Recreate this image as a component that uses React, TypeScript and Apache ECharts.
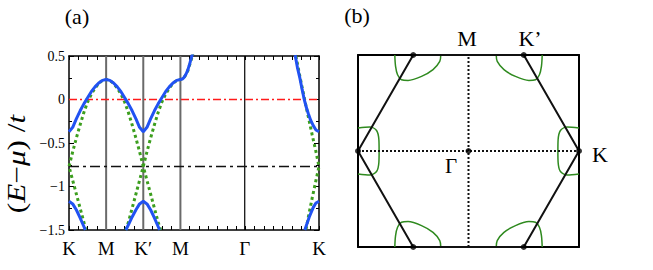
import React, { useEffect, useRef } from "react";
import * as echarts from "echarts";

// ---- panel (a): band structure along K-M-K'-M-Γ-K (K-M distance = 1) ----
const PATH_LABELS = ["K", "M", "K\u2032", "M", "\u0393", "K"];
const PATH_POS = [0, 1, 2, 3, 4.732, 6.732];
const Y_TICKS = [0.5, 0, -0.5, -1, -1.5];
const MU_LINE = 0;
const DIRAC_LINE = -0.77;

// blue (gapped) bands
const blueUpperMain: number[][] = [
  [0, -0.37], [0.1, -0.32], [0.2, -0.22], [0.3, -0.13], [0.4, -0.05], [0.5, 0.02],
  [0.6, 0.09], [0.7, 0.145], [0.8, 0.19], [0.9, 0.22], [1.0, 0.23],
  [1.1, 0.22], [1.2, 0.19], [1.3, 0.145], [1.4, 0.09], [1.5, 0.02], [1.6, -0.05],
  [1.7, -0.13], [1.8, -0.22], [1.9, -0.32], [2.0, -0.37],
  [2.1, -0.32], [2.2, -0.22], [2.3, -0.13], [2.4, -0.05], [2.5, 0.02], [2.6, 0.09],
  [2.7, 0.145], [2.8, 0.19], [2.9, 0.22], [3.0, 0.23], [3.05, 0.235], [3.1, 0.255],
  [3.15, 0.29], [3.2, 0.34], [3.25, 0.41], [3.3, 0.49], [3.33, 0.53],
];
const blueUpperEnd: number[][] = [
  [6.09, 0.51], [6.15, 0.37], [6.22, 0.24], [6.28, 0.11], [6.335, 0.0], [6.39, -0.09],
  [6.443, -0.16], [6.51, -0.24], [6.578, -0.3], [6.65, -0.35], [6.732, -0.37],
];
const blueLowerK: number[][] = [
  [0, -1.17], [0.1, -1.2], [0.2, -1.27], [0.3, -1.36], [0.4, -1.46], [0.44, -1.5],
];
const blueLowerKp: number[][] = [
  [1.53, -1.5], [1.6, -1.44], [1.7, -1.35], [1.8, -1.27], [1.9, -1.2], [2.0, -1.17],
  [2.1, -1.2], [2.2, -1.27], [2.3, -1.36], [2.4, -1.46], [2.44, -1.5],
];
const blueLowerEnd: number[][] = [
  [6.35, -1.5], [6.47, -1.35], [6.578, -1.24], [6.65, -1.19], [6.732, -1.17],
];

// green (ungapped) bands
const greenA: number[][] = [
  [0.45, -1.5], [0.4, -1.41], [0.3, -1.25], [0.2, -1.09], [0.1, -0.93], [0, -0.77],
  [0.1, -0.6], [0.2, -0.44], [0.3, -0.29], [0.4, -0.15], [0.5, -0.03], [0.6, 0.06],
  [0.7, 0.13], [0.8, 0.185], [0.9, 0.22], [1.0, 0.23], [1.1, 0.22], [1.2, 0.185],
  [1.3, 0.13], [1.4, 0.06], [1.5, -0.03], [1.6, -0.15], [1.7, -0.29], [1.8, -0.44],
  [1.9, -0.6], [2.0, -0.77], [2.1, -0.93], [2.2, -1.09], [2.3, -1.25], [2.4, -1.41],
  [2.47, -1.5],
];
const greenB: number[][] = [
  [1.53, -1.5], [1.6, -1.41], [1.7, -1.25], [1.8, -1.09], [1.9, -0.93], [2.0, -0.77],
  [2.1, -0.6], [2.2, -0.44], [2.3, -0.29], [2.4, -0.15], [2.5, -0.03], [2.6, 0.06],
  [2.7, 0.13], [2.8, 0.185], [2.9, 0.22], [3.0, 0.23], [3.1, 0.25], [3.2, 0.33],
  [3.3, 0.47], [3.34, 0.53],
];
const greenC: number[][] = [
  [6.11, 0.5], [6.22, 0.26], [6.34, 0.01], [6.45, -0.21], [6.55, -0.41], [6.65, -0.6],
  [6.732, -0.77], [6.65, -0.93], [6.55, -1.13], [6.45, -1.34], [6.38, -1.5],
];

// ---- panel (b): Brillouin zone and Fermi pockets ----
const hexagon: number[][] = [
  [-1, 0], [-0.5, 0.866], [0.5, 0.866], [1, 0], [0.5, -0.866], [-0.5, -0.866], [-1, 0],
];
const bzPoints: number[][] = [
  [-1, 0], [-0.5, 0.866], [0.5, 0.866], [1, 0], [0.5, -0.866], [-0.5, -0.866], [0, 0],
];
const gammaM: number[][] = [[0, -0.866], [0, 0.866]];
const gammaK: number[][] = [[-1, 0], [1, 0]];

const pocketLeft: number[][] = [
  [-1, 0.207], [-0.893, 0.216], [-0.832, 0.185], [-0.811, 0.101], [-0.809, 0],
  [-0.811, -0.101], [-0.832, -0.185], [-0.893, -0.216], [-1, -0.207],
];
const pocketRight: number[][] = [
  [1, 0.207], [0.893, 0.216], [0.832, 0.185], [0.811, 0.101], [0.809, 0],
  [0.811, -0.101], [0.832, -0.185], [0.893, -0.216], [1, -0.207],
];
const pocketTopLeft: number[][] = [
  [-0.667, 0.866], [-0.66, 0.763], [-0.642, 0.688], [-0.606, 0.643], [-0.547, 0.637],
  [-0.425, 0.673], [-0.321, 0.734], [-0.26, 0.808], [-0.251, 0.866],
];
const pocketTopRight: number[][] = [
  [0.667, 0.866], [0.66, 0.763], [0.642, 0.688], [0.606, 0.643], [0.547, 0.637],
  [0.425, 0.673], [0.321, 0.734], [0.26, 0.808], [0.251, 0.866],
];
const pocketBottomLeft: number[][] = [
  [-0.667, -0.866], [-0.66, -0.763], [-0.642, -0.688], [-0.606, -0.643], [-0.547, -0.637],
  [-0.425, -0.673], [-0.321, -0.734], [-0.26, -0.808], [-0.251, -0.866],
];
const pocketBottomRight: number[][] = [
  [0.667, -0.866], [0.66, -0.763], [0.642, -0.688], [0.606, -0.643], [0.547, -0.637],
  [0.425, -0.673], [0.321, -0.734], [0.26, -0.808], [0.251, -0.866],
];

const SERIF = "'Liberation Serif', 'Times New Roman', serif";
const BLUE = "#2152f2";
const GREEN = "#3c9e1e";
const GREEN_B = "#2f8a1f";

export default function App() {
  const ref = useRef<HTMLDivElement>(null);
  useEffect(() => {
    if (!ref.current) return;
    const chart = echarts.init(ref.current, null, { renderer: "svg" });
    const xMax = PATH_POS[PATH_POS.length - 1];
    const line = (data: number[][], color: string, width: number, type: any, z = 2, ax = 0) => ({
      type: "line",
      xAxisIndex: ax,
      yAxisIndex: ax,
      data,
      showSymbol: false,
      symbol: "none",
      silent: true,
      z,
      lineStyle: { color, width, type },
    });
    const frameAxis = (grid: number, pos: string, w: number) => ({
      gridIndex: grid,
      position: pos,
      axisLine: { onZero: false, lineStyle: { color: "#000", width: w } },
      splitLine: { show: false },
    });
    const series: any[] = [];
    // vertical lines at symmetry points
    PATH_POS.slice(1, 5).forEach((p, i) => {
      const isGamma = i === 3;
      series.push(line([[p, -1.5], [p, 0.5]], isGamma ? "#000" : "#6a6a6a", isGamma ? 1.2 : 2, "solid", 1));
    });
    series.push(line([[0, MU_LINE], [xMax, MU_LINE]], "#ff1a1a", 1.3, [8, 3, 2, 3], 3));
    series.push(line([[0, DIRAC_LINE], [xMax, DIRAC_LINE]], "#111", 1.5, [10, 4, 3, 4], 3));
    [greenA, greenB, greenC].forEach((d) => series.push(line(d, GREEN, 3, [3, 3], 4)));
    [blueUpperMain, blueUpperEnd, blueLowerK, blueLowerKp, blueLowerEnd].forEach((d) =>
      series.push(line(d, BLUE, 3, "solid", 5))
    );
    // panel (b)
    [pocketLeft, pocketRight, pocketTopLeft, pocketTopRight, pocketBottomLeft, pocketBottomRight].forEach((d) =>
      series.push({ ...line(d, GREEN_B, 1.5, "solid", 2, 2), smooth: 0.3 })
    );
    series.push(line(gammaM, "#111", 2, [2, 2], 3, 2));
    series.push(line(gammaK, "#111", 2, [2, 2], 3, 2));
    series.push(line(hexagon, "#111", 2, "solid", 4, 2));
    series.push({
      type: "scatter",
      xAxisIndex: 2,
      yAxisIndex: 2,
      data: bzPoints,
      symbolSize: 6,
      itemStyle: { color: "#000" },
      z: 5,
      silent: true,
    });

    const labelFor = (v: number) => {
      const i = PATH_POS.findIndex((p) => Math.abs(p - v) < 1e-6);
      return i >= 0 ? PATH_LABELS[i] : "";
    };
    const txt = (text: string, x: number, y: number, size: number) => ({
      type: "text",
      x,
      y,
      style: {
        text,
        fontFamily: SERIF,
        fontSize: size,
        fill: "#000",
        textAlign: "center",
        textVerticalAlign: "middle",
      },
    });

    chart.setOption({
      animation: false,
      backgroundColor: "#fff",
      grid: [
        { left: 69, top: 56, width: 250, height: 174 },
        { left: 358, top: 55, width: 221, height: 192 },
      ],
      xAxis: [
        {
          ...frameAxis(0, "bottom", 1.5),
          type: "value",
          min: 0,
          max: xMax,
          interval: 0.25,
          axisTick: { show: true, inside: true, length: 4, lineStyle: { color: "#000" } },
          axisLabel: {
            customValues: PATH_POS,
            formatter: labelFor,
            fontFamily: SERIF,
            fontSize: 19,
            color: "#000",
            margin: 9,
          },
        },
        {
          ...frameAxis(0, "top", 1.5),
          type: "value",
          min: 0,
          max: xMax,
          interval: 0.25,
          axisTick: { show: true, inside: true, length: 4, lineStyle: { color: "#000" } },
          axisLabel: { show: false },
        },
        {
          ...frameAxis(1, "bottom", 2),
          type: "value",
          min: -1,
          max: 1,
          axisTick: { show: false },
          axisLabel: { show: false },
        },
        {
          ...frameAxis(1, "top", 2),
          type: "value",
          min: -1,
          max: 1,
          axisTick: { show: false },
          axisLabel: { show: false },
        },
      ],
      yAxis: [
        {
          ...frameAxis(0, "left", 1.5),
          type: "value",
          min: -1.5,
          max: 0.5,
          interval: 0.5,
          axisTick: { show: true, inside: true, length: 5, lineStyle: { color: "#000" } },
          minorTick: { show: true, splitNumber: 2, length: 3, lineStyle: { color: "#000" } },
          axisLabel: {
            customValues: Y_TICKS,
            formatter: (v: number) => (v < 0 ? "\u2212" + Math.abs(v) : String(v)),
            fontFamily: SERIF,
            fontSize: 14,
            color: "#000",
            margin: 4,
          },
        },
        {
          ...frameAxis(0, "right", 1.5),
          type: "value",
          min: -1.5,
          max: 0.5,
          interval: 0.5,
          axisTick: { show: true, inside: true, length: 5, lineStyle: { color: "#000" } },
          minorTick: { show: true, splitNumber: 2, length: 3, lineStyle: { color: "#000" } },
          axisLabel: { show: false },
        },
        {
          ...frameAxis(1, "left", 2),
          type: "value",
          min: -0.866,
          max: 0.866,
          axisTick: { show: false },
          axisLabel: { show: false },
        },
        {
          ...frameAxis(1, "right", 2),
          type: "value",
          min: -0.866,
          max: 0.866,
          axisTick: { show: false },
          axisLabel: { show: false },
        },
      ],
      series,
      graphic: [
        txt("(a)", 77, 16, 22),
        txt("(b)", 357, 15, 22),
        txt("M", 467, 38, 22),
        txt("K\u2019", 530, 38, 22),
        txt("K", 600, 154, 22),
        txt("\u0393", 451, 166, 21),
        {
          type: "text",
          x: 17,
          y: 164,
          rotation: Math.PI / 2,
          scaleX: 1.25,
          style: {
            text: "({i|E}\u2212{i|\u03bc}) /{i|t}",
            fontFamily: SERIF,
            fontSize: 25,
            fill: "#000",
            textAlign: "center",
            textVerticalAlign: "middle",
            rich: {
              i: { fontFamily: SERIF, fontStyle: "italic", fontSize: 25, fill: "#000" },
            },
          },
        },
      ],
    });
    return () => chart.dispose();
  }, []);
  return (
    <div
      ref={ref}
      style={{ position: "fixed", left: 0, top: 0, width: 653, height: 270, background: "#fff" }}
    />
  );
}
